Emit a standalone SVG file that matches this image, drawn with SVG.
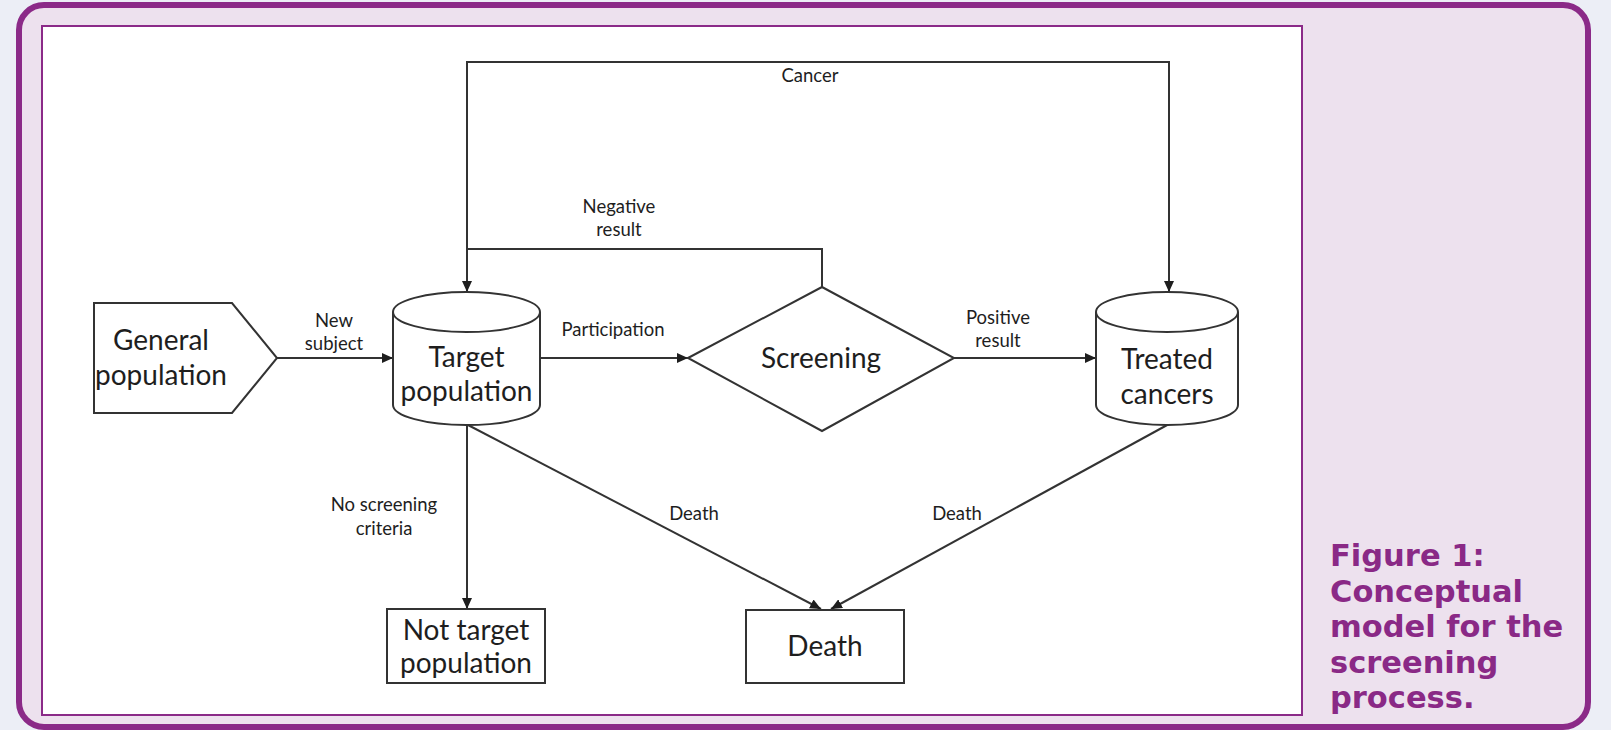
<svg xmlns="http://www.w3.org/2000/svg" width="1611" height="730" viewBox="0 0 1611 730">
<defs>
<style>
.node{fill:#ffffff;stroke:#333333;stroke-width:2}
.conn{fill:none;stroke:#333333;stroke-width:2}
.nt{font-family:Lato,"Liberation Sans",sans-serif;font-size:28px;fill:#1e1e1e;text-anchor:middle}
.lb{font-family:Lato,"Liberation Sans",sans-serif;font-size:18.5px;fill:#1e1e1e;text-anchor:middle}
.cap{font-family:"DejaVu Sans",Verdana,sans-serif;font-weight:bold;font-size:30.5px;fill:#8a2986}
</style>
<marker id="arr" markerWidth="11" markerHeight="10" refX="11" refY="5" orient="auto" markerUnits="userSpaceOnUse">
<path d="M0,0 L11,5 L0,10 z" fill="#1e1e1e"/>
</marker>
</defs>
<rect x="0" y="0" width="1611" height="730" fill="#eceef6"/>
<rect x="19" y="5" width="1569" height="722" rx="25" ry="25" fill="#ede1ee" stroke="#8b2a88" stroke-width="6"/>
<rect x="42" y="26" width="1260" height="689" fill="#ffffff" stroke="#8b2a88" stroke-width="2"/>

<g id="connectors">
<path class="conn" d="M277,358 L393,358" marker-end="url(#arr)"/>
<path class="conn" d="M541,358 L688,358" marker-end="url(#arr)"/>
<path class="conn" d="M954,358 L1096,358" marker-end="url(#arr)"/>
<path class="conn" d="M822,287 L822,249 L467,249 L467,292" marker-end="url(#arr)"/>
<path class="conn" d="M467,249 L467,62 L1169,62 L1169,292" marker-end="url(#arr)"/>
<path class="conn" d="M467,425 L467,609" marker-end="url(#arr)"/>
<path class="conn" d="M468,425 L821,609" marker-end="url(#arr)"/>
<path class="conn" d="M1169,424 L831,609" marker-end="url(#arr)"/>
<text class="lb" x="334" y="327">New</text>
<text class="lb" x="334" y="350">subject</text>
<text class="lb" x="613" y="336">Participation</text>
<text class="lb" x="998" y="324">Positive</text>
<text class="lb" x="998" y="347">result</text>
<text class="lb" x="619" y="213">Negative</text>
<text class="lb" x="619" y="236">result</text>
<text class="lb" x="810" y="82">Cancer</text>
<text class="lb" x="384" y="511">No screening</text>
<text class="lb" x="384" y="535">criteria</text>
<text class="lb" x="694" y="520">Death</text>
<text class="lb" x="957" y="520">Death</text>
</g>

<g id="general-population">
<path class="node" d="M94,303 L232,303 L277,358 L232,413 L94,413 z"/>
<text class="nt" x="161" y="350">General</text>
<text class="nt" x="161" y="385">population</text>
</g>

<g id="target-population">
<path class="node" d="M393,312 L393,405 A73.5,20 0 0 0 540,405 L540,312"/>
<ellipse class="node" cx="466.5" cy="312" rx="73.5" ry="20"/>
<text class="nt" x="466.5" y="367">Target</text>
<text class="nt" x="466.5" y="401">population</text>
</g>

<g id="screening">
<path class="node" d="M688,358 L822,287 L954,358 L822,431 z"/>
<text class="nt" x="821" y="368">Screening</text>
</g>

<g id="treated-cancers">
<path class="node" d="M1096,312 L1096,405 A71,20 0 0 0 1238,405 L1238,312"/>
<ellipse class="node" cx="1167" cy="312" rx="71" ry="20"/>
<text class="nt" x="1167" y="369">Treated</text>
<text class="nt" x="1167" y="404">cancers</text>
</g>

<g id="not-target-population">
<rect class="node" x="387" y="609" width="158" height="74"/>
<text class="nt" x="466" y="640">Not target</text>
<text class="nt" x="466" y="673">population</text>
</g>

<g id="death">
<rect class="node" x="746" y="610" width="158" height="73"/>
<text class="nt" x="825" y="656">Death</text>
</g>

<g id="caption">
<text class="cap" x="1330" y="566">Figure 1:</text>
<text class="cap" x="1330" y="601.5">Conceptual</text>
<text class="cap" x="1330" y="637">model for the</text>
<text class="cap" x="1330" y="672.5">screening</text>
<text class="cap" x="1330" y="708">process.</text>
</g>
</svg>
